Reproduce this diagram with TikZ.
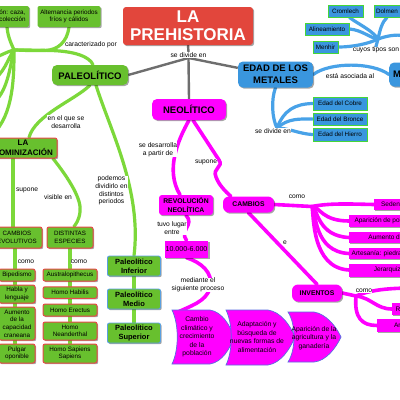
\documentclass[tikz,border=0pt]{standalone}
\usepackage{fontspec}
\setmainfont{Liberation Sans}
\usetikzlibrary{shadows,backgrounds}
\definecolor{gfill}{RGB}{104,192,46}
\definecolor{gline}{RGB}{124,216,58}
\definecolor{mag}{RGB}{255,0,255}
\definecolor{bfill}{RGB}{58,150,222}
\definecolor{bline}{RGB}{72,162,232}
\definecolor{bgreen}{RGB}{70,215,55}
\definecolor{rfill}{RGB}{226,70,60}
\definecolor{rbord}{RGB}{232,72,72}
\definecolor{gray1}{RGB}{110,110,110}
\definecolor{arrbord}{RGB}{90,110,225}
\definecolor{pbord}{RGB}{90,160,225}
\tikzset{
  shad/.style={drop shadow={shadow xshift=1.2pt, shadow yshift=-1.2pt, opacity=0.35, fill=black}},
  lbl/.style={fill=white, inner sep=0.3pt, align=center, font=\fontsize{6.7}{7.6}\selectfont},
  gbox/.style={shad, fill=gfill, rounded corners=2pt, align=center, inner sep=1pt, font=\fontsize{6.3}{7.3}\selectfont},
  grbox/.style={gbox, draw=rbord, line width=1pt},
  gbbox/.style={gbox, draw=pbord, line width=0.9pt, font=\bfseries\fontsize{7.5}{9}\selectfont},
  mainbox/.style={shad, rounded corners=5pt, align=center, inner sep=1pt, font=\bfseries\fontsize{9.5}{12}\selectfont},
  bbox/.style={shad, fill=bfill, draw=bgreen, line width=1pt, inner sep=1pt, font=\fontsize{6.3}{7.3}\selectfont},
  mbox/.style={shad, fill=mag, inner sep=1pt, font=\fontsize{6.5}{7.5}\selectfont},
  msub/.style={shad, fill=mag, rounded corners=5pt, align=center, inner sep=1pt, font=\bfseries\fontsize{6.8}{8.3}\selectfont},
  gcon/.style={draw=gline, line width=3.2pt, line cap=round},
  mcon/.style={draw=mag, line width=3.6pt, line cap=round},
  bcon/.style={draw=bline, line width=3.2pt, line cap=round},
  kcon/.style={draw=gray1, line width=2.4pt},
  arrsh/.style={fill=mag, draw=arrbord, line width=0.7pt},
  arrtxt/.style={align=center, inner sep=0pt, font=\fontsize{6.8}{8.5}\selectfont},
}
\begin{document}
\begin{tikzpicture}[x=1pt, y=-1pt]
\useasboundingbox (0,0) rectangle (400,400);

% ---- top
\node[mainbox, fill=rfill, text=white, font=\bfseries\fontsize{17}{18}\selectfont, minimum width=130pt, minimum height=38pt, rounded corners=3pt] (pre) at (188,26) {LA\\PREHISTORIA};
\node[lbl] (sde) at (188.5,55) {se divide en};
\node[mainbox, fill=gfill, minimum width=76pt, minimum height=20pt] (pal) at (90,75) {PALEOLÍTICO};
\node[mainbox, fill=mag, minimum width=74pt, minimum height=21pt] (neo) at (189,109.5) {NEOLÍTICO};
\node[mainbox, fill=bfill, minimum width=75pt, minimum height=26pt] (edad) at (275.5,74.5) {EDAD DE LOS\\METALES};
\node[mainbox, fill=bfill, minimum height=24pt, anchor=west, inner xsep=4pt] (megal) at (389,74.5) {MEGALITISMO};

% ---- paleolitico
\node[gbox, minimum width=62pt, minimum height=21pt] (caza) at (-2,16.5) {Depredación: caza,\\pesca y recolección};
\node[gbox, minimum width=63pt, minimum height=21pt] (alt) at (69,16.5) {Alternancia periodos\\fríos y cálidos};
\node[lbl] (cpor) at (91,45) {caracterizado por};
\node[grbox, font=\bfseries\fontsize{8}{10}\selectfont, minimum width=68pt, minimum height=20pt] (hom) at (23,148) {LA\\HOMINIZACIÓN};
\node[lbl] (eqd) at (66,122) {en el que se\\desarrolla};
\node[lbl] (sup1) at (27,190) {supone};
\node[lbl] (vis) at (58,197) {visible en};
\node[lbl] (pod) at (111.5,190.5) {podemos\\dividirlo en\\distintos\\periodos};
\node[grbox, font=\fontsize{6.2}{7.7}\selectfont, minimum width=50pt, minimum height=21pt] (cev) at (17,237.5) {CAMBIOS\\EVOLUTIVOS};
\node[grbox, font=\fontsize{6.2}{7.7}\selectfont, minimum width=46pt, minimum height=21pt] (des) at (70,237.5) {DISTINTAS\\ESPECIES};
\node[lbl] (como1) at (26,262) {como};
\node[lbl] (como2) at (79,262) {como};

\node[grbox, minimum width=36pt, minimum height=12pt] (bip) at (17,275) {Bipedismo};
\node[grbox, minimum width=36pt, minimum height=18pt] (hab) at (17,294) {Habla y\\lenguaje};
\node[grbox, minimum width=36pt, minimum height=33pt, font=\fontsize{6.3}{7.7}\selectfont] (aum) at (17,323.5) {Aumento\\de la\\capacidad\\craneana};
\node[grbox, minimum width=36pt, minimum height=19pt] (pul) at (17,353.5) {Pulgar\\oponible};

\node[grbox, minimum width=54pt, minimum height=12pt] (aus) at (70,275) {Australopithecus};
\node[grbox, minimum width=54pt, minimum height=11.5pt] (hh) at (70,292.5) {Homo Habilis};
\node[grbox, minimum width=54pt, minimum height=12pt] (he) at (70,310) {Homo Erectus};
\node[grbox, minimum width=54pt, minimum height=18pt] (hn) at (70,331) {Homo\\Neanderthal};
\node[grbox, minimum width=54pt, minimum height=19pt] (hs) at (70,353.5) {Homo Sapiens\\Sapiens};

\node[gbbox, minimum width=53pt, minimum height=20pt] (pinf) at (134,266) {Paleolítico\\Inferior};
\node[gbbox, minimum width=53pt, minimum height=20pt] (pmed) at (134,299) {Paleolítico\\Medio};
\node[gbbox, minimum width=53pt, minimum height=20pt] (psup) at (134,333) {Paleolítico\\Superior};

% ---- neolitico
\node[lbl] (sdp) at (158,149.5) {se desarrolla\\a partir de};
\node[lbl] (sup2) at (206,162) {supone};
\node[msub, minimum width=54pt, minimum height=20pt, rounded corners=3pt] (rev) at (186,205) {REVOLUCIÓN\\NEOLÍTICA};
\node[msub, minimum width=51pt, minimum height=16pt, rounded corners=6pt] (camb) at (248.5,204.5) {CAMBIOS};
\node[lbl] (tle) at (172,228) {tuvo lugar\\entre};
\node[mbox, minimum width=43pt, minimum height=17pt, font=\fontsize{7.1}{8}\selectfont] (tenk) at (186.5,249) {10.000-6.000};
\node[lbl] (msp) at (198,285) {mediante el\\siguiente proceso};
\node[lbl] (como3) at (297,197) {como};
\node[lbl] (lbe) at (285,243) {e};
\node[msub, minimum width=50pt, minimum height=17pt, rounded corners=6pt] (inv) at (317,293) {INVENTOS};
\node[lbl] (como4) at (364,291) {como};

\node[mbox, anchor=west, minimum width=54pt, minimum height=11pt] (sed) at (374,204.5) {Sedentarismo};
\node[mbox, anchor=west, minimum width=75pt, minimum height=12pt] (apa) at (349,221) {Aparición de poblados};
\node[mbox, anchor=west, minimum width=110pt, minimum height=11pt] (aump) at (349,237.5) {Aumento de la población};
\node[mbox, anchor=west, minimum height=11pt, inner xsep=2.5pt] (art) at (349,253.5) {Artesanía: piedra pulimentada y cerámica};
\node[mbox, anchor=west, minimum width=110pt, minimum height=13pt] (jer) at (349,270) {Jerarquización social};
\node[mbox, anchor=west, minimum height=12pt, inner xsep=3.5pt] (rue) at (392,309) {Rueda};
\node[mbox, anchor=west, minimum width=51pt, minimum height=13pt] (ara) at (377,325.5) {Arado};

% process arrows
\path[arrsh] (172,310) -- (210,310) .. controls (222,312) and (230,325) .. (234,337) .. controls (230,349) and (222,362) .. (210,364) -- (172,364) .. controls (179,350) and (179,324) .. (172,310) -- cycle;
\path[arrsh] (226,310) -- (268,310) .. controls (281,312) and (290,325) .. (295,337) .. controls (290,349) and (281,363) .. (268,365) -- (226,365) .. controls (233,351) and (233,324) .. (226,310) -- cycle;
\path[arrsh] (288,312) -- (314,312) .. controls (326,314) and (336,326) .. (341,337) .. controls (336,348) and (326,361) .. (314,362) -- (288,362) .. controls (296,350) and (296,324) .. (288,312) -- cycle;
\node[arrtxt] (a1) at (197,337) {Cambio\\climático y\\crecimiento\\de la\\población};
\node[arrtxt] (a2) at (257,337) {Adaptación y\\búsqueda de\\nuevas formas de\\alimentación};
\node[arrtxt] (a3) at (314,338) {Aparición de la\\agricultura y la\\ganadería};
\coordinate (s1) at (176,313);

% ---- metales
\node[bbox, minimum width=35pt, minimum height=12pt] (crom) at (345.5,11) {Cromlech};
\node[bbox, minimum width=26pt, minimum height=12pt] (dol) at (387,11) {Dolmen};
\node[bbox, minimum width=44pt, minimum height=12pt] (alin) at (327,29) {Alineamiento};
\node[bbox, minimum width=25pt, minimum height=12pt] (men) at (325.5,47) {Menhir};
\node[lbl] (cts) at (376,50) {cuyos tipos son};
\node[lbl] (eaa) at (350,76) {está asociada al};
\node[bbox, minimum width=54pt, minimum height=13pt] (cob) at (340,103.5) {Edad del Cobre};
\node[bbox, minimum width=54pt, minimum height=12pt] (bro) at (340,119) {Edad del Bronce};
\node[bbox, minimum width=54pt, minimum height=13pt] (hie) at (340,134.5) {Edad del Hierro};
\node[lbl] (sde2) at (273,131) {se divide en};

\coordinate (gh) at (14,50);
\coordinate (ol1) at (-10,60);
\coordinate (ol2) at (-10,82);
\coordinate (ol3) at (-10,105);
\coordinate (ol4) at (-8,135);
\coordinate (cth) at (378,39);
\coordinate (ch) at (312,206.5);
\coordinate (ih) at (356,296);
\coordinate (ior) at (415,288);

\begin{pgfonlayer}{background}
\fill[white] (0,0) rectangle (400,400);
% gray
\draw[kcon] (pre.south) -- (sde.north);
\draw[kcon] (sde.south) -- (neo.north);
\draw[kcon] (sde.south) -- (pal.east);
\draw[kcon] (sde.south) -- (edad.170);
% green
\draw[gcon] ([xshift=3pt]pal.north) .. controls (90,57) and (75,51) .. (50,50.5) .. controls (35,50) and (20,50) .. (gh);
\draw[gcon] (alt.south) .. controls (67,42) and (58,50) .. (45,50.5) .. controls (30,51) and (20,50) .. (gh);
\draw[gcon] ([xshift=9pt]caza.south) .. controls (8,38) and (12,45) .. (gh);
\draw[gcon] (gh) .. controls (6,52) and (0,56) .. (ol1);
\draw[gcon] (gh) .. controls (8,58) and (4,75) .. (ol2);
\draw[gcon] (gh) .. controls (10,65) and (8,95) .. (ol3);
\draw[gcon] (gh) .. controls (14,75) and (14,115) .. (ol4);
\draw[gcon] (pal.south) .. controls (75,100) and (35,115) .. ([xshift=6pt]hom.north);
\draw[gcon] ([xshift=6pt]pal.south) .. controls (110,130) and (142,190) .. (pinf.north);
\draw[gcon] (pinf) -- (psup);
\draw[gcon] ([xshift=-10pt]hom.south) -- ([xshift=-4pt]cev.north);
\draw[gcon] ([xshift=30pt]hom.south) .. controls (70,180) and (82,200) .. (80,212) .. controls (79,220) and (76,224) .. ([xshift=4pt]des.north);
\draw[gcon] ([xshift=-2pt]cev.south) -- ([xshift=-2pt]pul.north);
\draw[gcon] (des.south) -- (hs.north);
% blue
\draw[bcon] (edad.east) .. controls (330,62) and (372,62) .. (megal.west);
\draw[bcon] (cts.north) -- (cth);
\draw[bcon] (cth) .. controls (372,30) and (358,24) .. ([xshift=4pt]crom.south);
\draw[bcon] (cth) .. controls (380,30) and (382,22) .. (dol.south);
\draw[bcon] (cth) .. controls (370,38) and (362,30) .. (alin.east);
\draw[bcon] (cth) .. controls (368,44) and (352,47) .. (men.east);
\draw[bcon] (cth) .. controls (392,34) and (420,28) .. (megal.north);
\draw[bcon] (edad.south) .. controls (271,100) and (272,118) .. ([xshift=4pt]sde2.north);
\draw[bcon] ([xshift=4pt]sde2.north) .. controls (284,110) and (295,104) .. (cob.west);
\draw[bcon] ([xshift=4pt]sde2.north) .. controls (288,118) and (300,119) .. (bro.west);
\draw[bcon] ([xshift=4pt]sde2.north) .. controls (288,128) and (300,134) .. (hie.west);
% magenta
\draw[mcon] (neo.south) .. controls (178,140) and (165,170) .. ([xshift=-6pt]rev.north);
\draw[mcon] ([xshift=4pt]neo.south) -- (219,160) .. controls (224,167) and (212,168) .. (216,177) .. controls (219,185) and (225,191) .. ([xshift=8pt]camb.north west);
\draw[mcon] (rev.south) .. controls (195,225) and (179,230) .. (tenk.north);
\draw[mcon] (tenk.south) .. controls (200,262) and (214,272) .. (210,288) .. controls (206,302) and (190,306) .. (s1);
\draw[mcon] (camb.east) -- (ch) .. controls (330,203) and (350,204) .. (sed.west);
\draw[mcon] (ch) .. controls (320,207) and (322,221) .. (apa.west);
\draw[mcon] (ch) .. controls (318,210) and (318,236) .. (aump.west);
\draw[mcon] (ch) .. controls (316,212) and (314,252) .. (art.west);
\draw[mcon] (ch) .. controls (314,214) and (311,268) .. (jer.west);
\draw[mcon] (camb.south) -- (inv.north);
\draw[mcon] (inv.east) -- (ih) .. controls (370,290) and (388,288) .. (ior);
\draw[mcon] (ih) .. controls (372,298) and (376,309) .. (rue.west);
\draw[mcon] (ih) .. controls (354,318) and (362,325.5) .. (ara.west);
\end{pgfonlayer}
\end{tikzpicture}
\end{document}
